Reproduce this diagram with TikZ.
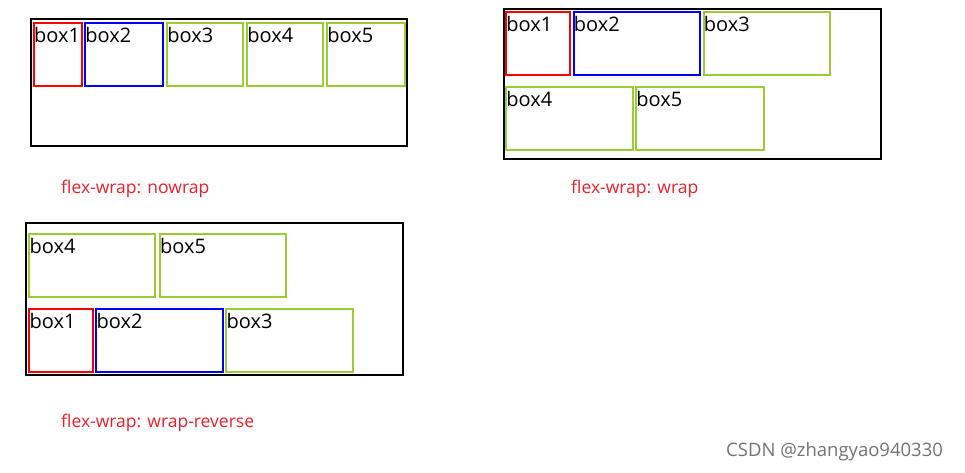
\documentclass[tikz,border=0pt]{standalone}
\usepackage{fontspec}
\setmainfont{Open Sans}
\definecolor{boxgreen}{RGB}{154,205,50}
\definecolor{capred}{RGB}{240,30,40}
\begin{document}
\begin{tikzpicture}
  [x=1pt,y=-1pt,
   frame/.style={draw=black,line width=2pt,anchor=north west,inner sep=0pt},
   item/.style={draw=#1,line width=2pt,anchor=north west,inner sep=0pt,minimum height=63},
   itemlabel/.style={anchor=north west,inner xsep=1.2pt,inner ysep=5.5pt,font=\fontsize{20}{20}\selectfont},
   caption/.style={anchor=west,inner sep=0pt,text=capred,font=\fontsize{17.5}{17.5}\selectfont}]
\useasboundingbox (0,0) rectangle (965,472);
  % flex-wrap: nowrap
  \node[frame,minimum width=376,minimum height=127] (c1) at (30,18) {};
  \foreach \name/\x/\y/\w/\col/\txt in {a1/32.7/22/48.5/red/box1, a2/84/22/78/blue/box2,
      a3/166/22/76/boxgreen/box3, a4/246/22/76/boxgreen/box4, a5/326/22/78/boxgreen/box5}
    \node[item=\col,minimum width=\w,label={[itemlabel]north west:\txt}] (\name) at (\x,\y) {};

  % flex-wrap: wrap
  \node[frame,minimum width=377,minimum height=150] (c2) at (503,8) {};
  \foreach \name/\x/\y/\w/\col/\txt in {b1/505/11/64/red/box1, b2/572.5/11/126/blue/box2,
      b3/702.5/11/126.5/boxgreen/box3, b4/505/86/126.5/boxgreen/box4, b5/635/86/127.5/boxgreen/box5}
    \node[item=\col,minimum width=\w,label={[itemlabel]north west:\txt}] (\name) at (\x,\y) {};

  % flex-wrap: wrap-reverse
  \node[frame,minimum width=377,minimum height=152] (c3) at (25,222) {};
  \foreach \name/\x/\y/\w/\col/\txt in {d4/28.3/232.7/125.7/boxgreen/box4, d5/158.7/232.7/126/boxgreen/box5,
      d1/28.3/307.7/63.4/red/box1, d2/95.3/307.7/127/blue/box2, d3/225.3/307.7/127/boxgreen/box3}
    \node[item=\col,minimum width=\w,label={[itemlabel]north west:\txt}] (\name) at (\x,\y) {};

  % captions
  \node[caption] (t1) at (61,188.5) {flex-wrap: nowrap};
  \node[caption] (t2) at (571,188.5) {flex-wrap: wrap};
  \node[caption] (t3) at (61,422.5) {flex-wrap: wrap-reverse};
  \node[anchor=west,inner sep=0pt,text=black!55,font=\fontsize{18.5}{18.5}\selectfont] (wm) at (726,452) {CSDN @zhangyao940330};
\end{tikzpicture}
\end{document}
